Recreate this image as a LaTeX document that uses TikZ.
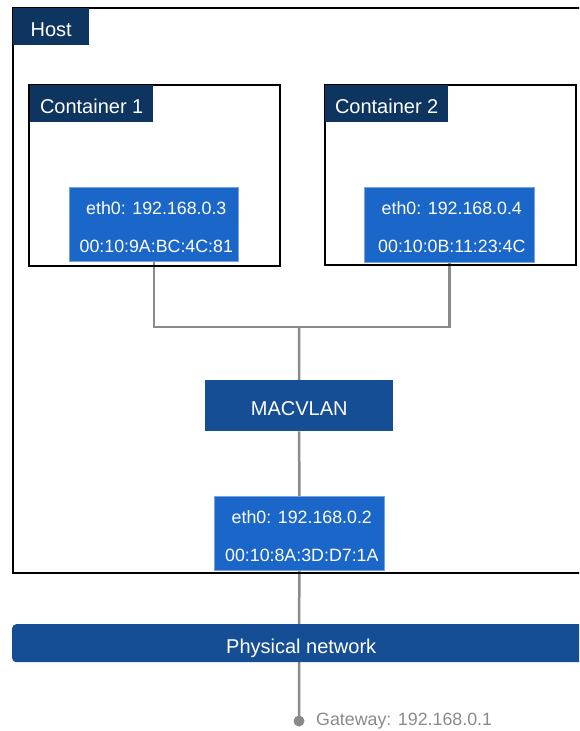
\documentclass[tikz,border=0pt]{standalone}
\usepackage{fontspec}
\setmainfont{Liberation Sans}
\usetikzlibrary{backgrounds}
\definecolor{navy}{HTML}{0E3460}
\definecolor{ethblue}{HTML}{1B66C9}
\definecolor{midblue}{HTML}{164E96}
\definecolor{wire}{HTML}{8A8A8A}
\newcommand{\ethtext}[2]{\rule{0pt}{18pt}#1\hspace*{-5pt}\\[17pt]#2\hspace*{-5pt}}
\begin{document}
\begin{tikzpicture}[x=1pt,y=-1pt,
  frame/.style={draw=black, line width=2pt, anchor=north west, inner sep=0pt},
  tag/.style={fill=navy, text=white, anchor=north west, inner sep=0pt,
    font=\fontsize{20}{24}\selectfont, minimum height=37pt,
    text height=19pt, text depth=0pt},
  eth/.style={fill=ethblue, draw=ethblue!60!white, line width=0.6pt, text=white,
    anchor=north west, inner sep=0pt, align=center,
    font=\fontsize{17.8}{21}\selectfont},
  bar/.style={fill=midblue, text=white, anchor=north west, inner sep=0pt,
    font=\fontsize{20}{24}\selectfont, text height=19pt, text depth=0pt},
  wireline/.style={draw=wire, line width=2.5pt},
]
\clip (0,0) rectangle (579,731);

% host
\node[frame, minimum width=600pt, minimum height=565pt] (host) at (12,7) {};
\node[tag, minimum width=76pt] (hostlbl) at (13,8) {Host};

% containers
\node[frame, minimum width=251pt, minimum height=181pt] (c1) at (28,84) {};
\node[tag, minimum width=123pt] (c1lbl) at (30,85) {Container 1};
\node[frame, minimum width=251pt, minimum height=180pt] (c2) at (324,84) {};
\node[tag, minimum width=123pt] (c2lbl) at (325,85) {Container 2};

% interfaces
\node[eth, minimum width=169pt, minimum height=74pt] (e1) at (69,187)
  {\ethtext{eth0: 192.168.0.3}{00:10:9A:BC:4C:81}};
\node[eth, minimum width=170pt, minimum height=75pt] (e2) at (364,187)
  {\ethtext{eth0: 192.168.0.4}{00:10:0B:11:23:4C}};

\node[bar, minimum width=188pt, minimum height=51pt] (mac) at (205,380) {MACVLAN};

\node[eth, minimum width=170pt, minimum height=74pt] (he) at (214,496)
  {\ethtext{eth0: 192.168.0.2}{00:10:8A:3D:D7:1A}};

\node[bar, rounded corners=4pt, minimum width=578pt, minimum height=38pt,
  text height=20pt] (phys) at (12,624) {Physical network};

\coordinate (jn) at (299,327);
\coordinate (gw) at (299,721);

\begin{scope}[on background layer]
  \draw[wireline] (e1.south) |- (jn) -| (e2.south);
  \draw[wireline] (jn) -- (mac.north);
  \draw[wireline] (mac.south) -- (he.north);
  \draw[wireline] (he.south) -- (gw);
\end{scope}
\fill[wire] (gw) circle (5.5);
\node[anchor=west, text=wire, inner sep=0pt, font=\fontsize{17.8}{21}\selectfont] (gwlbl)
  at (316,721) {Gateway: 192.168.0.1};
\end{tikzpicture}
\end{document}
